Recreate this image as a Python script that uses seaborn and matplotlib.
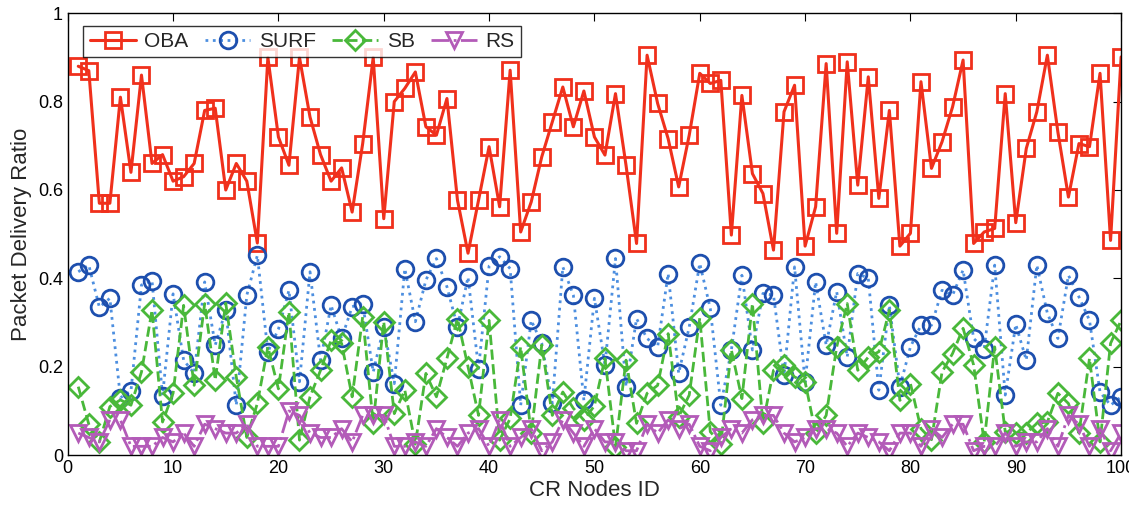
import numpy as np
import pandas as pd
import matplotlib
matplotlib.use("Agg")
import matplotlib.pyplot as plt
import seaborn as sns

node_ids = list(range(1, 101))

oba = [0.88, 0.87, 0.57, 0.57, 0.81, 0.64, 0.86, 0.66, 0.68, 0.62,
       0.63, 0.66, 0.78, 0.785, 0.60, 0.66, 0.62, 0.48, 0.90, 0.72,
       0.656, 0.90, 0.765, 0.68, 0.62, 0.65, 0.55, 0.705, 0.90, 0.535,
       0.80, 0.83, 0.867, 0.743, 0.724, 0.807, 0.577, 0.457, 0.577, 0.698,
       0.562, 0.871, 0.505, 0.573, 0.675, 0.754, 0.833, 0.743, 0.824, 0.72,
       0.679, 0.818, 0.656, 0.479, 0.905, 0.796, 0.716, 0.607, 0.724, 0.864,
       0.841, 0.848, 0.498, 0.814, 0.637, 0.592, 0.464, 0.777, 0.837, 0.473,
       0.562, 0.886, 0.502, 0.89, 0.611, 0.856, 0.581, 0.78, 0.473, 0.502,
       0.845, 0.649, 0.709, 0.788, 0.894, 0.479, 0.505, 0.513, 0.818, 0.526,
       0.694, 0.777, 0.905, 0.731, 0.584, 0.705, 0.698, 0.864, 0.486, 0.901]

surf = [0.415, 0.43, 0.335, 0.355, 0.13, 0.145, 0.385, 0.395, 0.135, 0.365,
        0.215, 0.185, 0.392, 0.249, 0.328, 0.113, 0.362, 0.452, 0.234, 0.285,
        0.373, 0.166, 0.415, 0.215, 0.339, 0.264, 0.336, 0.343, 0.188, 0.29,
        0.162, 0.422, 0.302, 0.396, 0.445, 0.381, 0.29, 0.403, 0.196, 0.428,
        0.449, 0.422, 0.113, 0.305, 0.253, 0.117, 0.426, 0.362, 0.124, 0.355,
        0.204, 0.445, 0.155, 0.309, 0.264, 0.245, 0.411, 0.185, 0.29, 0.434,
        0.332, 0.113, 0.238, 0.407, 0.238, 0.366, 0.362, 0.181, 0.426, 0.165,
        0.392, 0.249, 0.37, 0.222, 0.411, 0.4, 0.147, 0.339, 0.155, 0.245,
        0.294, 0.294, 0.373, 0.362, 0.419, 0.264, 0.241, 0.43, 0.136, 0.296,
        0.215, 0.43, 0.321, 0.264, 0.407, 0.358, 0.305, 0.143, 0.113, 0.132]

sb = [0.155, 0.07, 0.03, 0.11, 0.125, 0.113, 0.188, 0.328, 0.075, 0.14,
      0.339, 0.158, 0.343, 0.17, 0.344, 0.177, 0.04, 0.117, 0.245, 0.15,
      0.324, 0.034, 0.132, 0.192, 0.26, 0.253, 0.132, 0.313, 0.072, 0.302,
      0.094, 0.147, 0.025, 0.185, 0.132, 0.219, 0.309, 0.2, 0.09, 0.305,
      0.034, 0.083, 0.245, 0.05, 0.249, 0.09, 0.143, 0.106, 0.079, 0.112,
      0.219, 0.019, 0.215, 0.072, 0.14, 0.158, 0.275, 0.087, 0.136, 0.31,
      0.053, 0.026, 0.238, 0.128, 0.343, 0.072, 0.192, 0.204, 0.177, 0.166,
      0.05, 0.09, 0.245, 0.343, 0.192, 0.222, 0.234, 0.328, 0.124, 0.162,
      0.06, 0.035, 0.188, 0.23, 0.287, 0.204, 0.03, 0.245, 0.053, 0.05,
      0.05, 0.072, 0.075, 0.14, 0.117, 0.05, 0.219, 0.03, 0.253, 0.305]

rs = [0.05, 0.04, 0.03, 0.08, 0.08, 0.02, 0.02, 0.02, 0.04, 0.03,
      0.05, 0.02, 0.07, 0.06, 0.05, 0.05, 0.07, 0.02, 0.02, 0.02,
      0.10, 0.09, 0.05, 0.04, 0.04, 0.06, 0.03, 0.09, 0.09, 0.09,
      0.02, 0.02, 0.03, 0.02, 0.06, 0.04, 0.02, 0.05, 0.06, 0.02,
      0.08, 0.02, 0.04, 0.06, 0.01, 0.03, 0.08, 0.05, 0.02, 0.06,
      0.03, 0.03, 0.01, 0.01, 0.07, 0.05, 0.08, 0.06, 0.07, 0.02,
      0.01, 0.04, 0.06, 0.05, 0.08, 0.09, 0.09, 0.05, 0.03, 0.04,
      0.06, 0.06, 0.05, 0.02, 0.05, 0.04, 0.03, 0.01, 0.05, 0.05,
      0.02, 0.06, 0.04, 0.07, 0.07, 0.01, 0.02, 0.02, 0.05, 0.02,
      0.03, 0.03, 0.06, 0.02, 0.09, 0.07, 0.02, 0.06, 0.01, 0.05]

sns.set_style("white")
plt.rcParams['font.family'] = ['Liberation Sans', 'DejaVu Sans']

fig, ax = plt.subplots(figsize=(11.29, 5.08), dpi=100)
fig.subplots_adjust(left=0.060, right=0.993, top=0.974, bottom=0.104)

# name, values, line colour, marker colour, dash style, marker
styles = [
    ("OBA", oba, "#f0301c", "#f0301c", "-", "s"),
    ("SURF", surf, "#4d8fe0", "#1d4fae", ":", "o"),
    ("SB", sb, "#49b83a", "#49b83a", "--", "D"),
    ("RS", rs, "#b35bb8", "#b35bb8", "-.", "v"),
]

for name, vals, lc, mc, ls, mk in styles:
    sns.lineplot(x=node_ids, y=vals, ax=ax, color=lc, linestyle=ls,
                 linewidth=2.2 if name == "OBA" else 2.0,
                 marker=mk, markersize=12 if mk != "D" else 10,
                 markerfacecolor="none", markeredgecolor=mc,
                 markeredgewidth=2.0, label=name, sort=False)

ax.set_xlim(0, 100)
ax.set_ylim(0, 1)
ax.set_xticks(range(0, 101, 10))
ax.set_yticks([0, 0.2, 0.4, 0.6, 0.8, 1])
ax.set_yticklabels(["0", "0.2", "0.4", "0.6", "0.8", "1"])
ax.tick_params(direction="in", top=True, right=True, length=6,
               labelsize=13, colors="black")
for s in ax.spines.values():
    s.set_color("black")
    s.set_linewidth(1.0)

ax.set_xlabel("CR Nodes ID", fontsize=16, labelpad=2)
ax.set_ylabel("Packet Delivery Ratio", fontsize=16, labelpad=4)

leg = ax.legend(loc="upper left", ncol=4, fontsize=15, frameon=True,
                fancybox=False, edgecolor="black", handlelength=2.2,
                columnspacing=0.8, handletextpad=0.4,
                borderpad=0.3, bbox_to_anchor=(0.005, 0.995))
leg.get_frame().set_linewidth(1.0)

fig.savefig("out.png", dpi=100)
